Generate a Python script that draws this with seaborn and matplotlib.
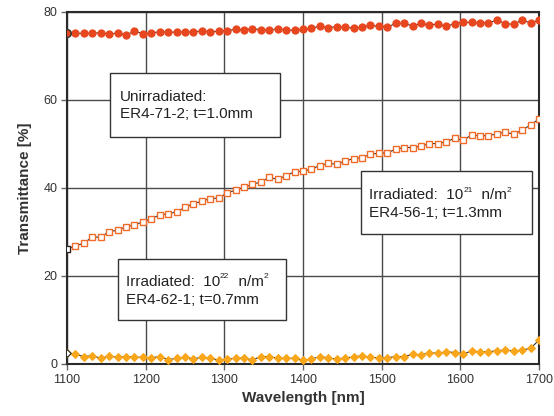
import matplotlib
matplotlib.use("Agg")
import matplotlib.pyplot as plt
from matplotlib.patches import Rectangle
from matplotlib.transforms import offset_copy
import seaborn as sns
import pandas as pd

wavelength = [1100.0, 1110.7, 1121.4, 1132.1, 1142.9, 1153.6, 1164.3, 1175.0, 1185.7, 1196.4,
              1207.1, 1217.9, 1228.6, 1239.3, 1250.0, 1260.7, 1271.4, 1282.1, 1292.9, 1303.6,
              1314.3, 1325.0, 1335.7, 1346.4, 1357.1, 1367.9, 1378.6, 1389.3, 1400.0, 1410.7,
              1421.4, 1432.1, 1442.9, 1453.6, 1464.3, 1475.0, 1485.7, 1496.4, 1507.1, 1517.9,
              1528.6, 1539.3, 1550.0, 1560.7, 1571.4, 1582.1, 1592.9, 1603.6, 1614.3, 1625.0,
              1635.7, 1646.4, 1657.1, 1667.9, 1678.6, 1689.3, 1700.0]

unirradiated = [75.15, 75.15, 75.15, 75.15, 75.3, 75.0, 75.23, 74.7, 75.68, 75.08,
                75.23, 75.53, 75.38, 75.45, 75.45, 75.45, 75.76, 75.45, 75.68, 75.76,
                76.06, 75.91, 76.21, 75.98, 75.83, 76.21, 75.83, 75.91, 76.06, 76.29,
                76.82, 76.44, 76.67, 76.52, 76.36, 76.52, 76.97, 76.74, 76.52, 77.42,
                77.42, 76.82, 77.42, 77.05, 77.27, 76.74, 77.35, 77.65, 77.65, 77.50,
                77.50, 78.18, 77.35, 77.20, 78.18, 77.50, 78.11]

irr_1e21 = [26.1, 26.9, 27.4, 28.9, 28.8, 30.1, 30.4, 31.2, 31.6, 32.3,
            33.0, 33.9, 34.1, 34.6, 35.6, 36.4, 37.0, 37.6, 37.7, 38.9,
            39.5, 40.2, 40.8, 41.4, 42.4, 42.0, 42.8, 43.7, 43.8, 44.3,
            45.1, 45.6, 45.4, 46.1, 46.7, 46.9, 47.7, 47.9, 48.0, 48.8,
            49.2, 49.2, 49.5, 50.1, 50.1, 50.5, 51.3, 50.8, 52.1, 51.9,
            51.9, 52.3, 52.7, 52.2, 53.2, 54.3, 55.7]

irr_1e22 = [2.6, 2.2, 1.7, 1.9, 1.3, 1.8, 1.5, 1.7, 1.6, 1.5,
            1.4, 1.7, 1.0, 1.3, 1.5, 1.2, 1.5, 1.3, 0.9, 1.1,
            1.3, 1.4, 0.9, 1.7, 1.7, 1.3, 1.3, 1.3, 0.9, 1.1,
            1.7, 1.4, 1.1, 1.4, 1.6, 1.9, 1.5, 1.4, 1.4, 1.7,
            1.7, 2.2, 2.05, 2.6, 2.4, 2.8, 2.6, 2.3, 2.95, 2.8,
            2.8, 3.0, 3.2, 2.95, 3.2, 3.55, 5.45]

x_ticks = [1100, 1200, 1300, 1400, 1500, 1600, 1700]
y_ticks = [0, 20, 40, 60, 80]

# box texts: first line split into (text, is_superscript) pieces
box_unirr = [[("Unirradiated:", False)], "ER4-71-2; t=1.0mm"]
box_e21 = [[("Irradiated:  10", False), ("21", True), ("  n/m", False), ("2", True)], "ER4-56-1; t=1.3mm"]
box_e22 = [[("Irradiated:  10", False), ("22", True), ("  n/m", False), ("2", True)], "ER4-62-1; t=0.7mm"]

sns.set_theme(style="white")
plt.rcParams["font.family"] = ["Liberation Sans", "DejaVu Sans"]

df = pd.DataFrame({"wl": wavelength, "u": unirradiated, "a": irr_1e21, "b": irr_1e22})

fig = plt.figure(figsize=(5.54, 4.16), dpi=100)
ax = fig.add_axes([67 / 554, 1 - 364 / 416, 472 / 554, 352 / 416])

line_kw = dict(color="#333333", linewidth=0.8, estimator=None, sort=False, zorder=3)

sns.lineplot(data=df, x="wl", y="u", ax=ax, marker="o", markersize=5.2,
             markerfacecolor="#E8461E", markeredgecolor="#E8461E", **line_kw)
sns.lineplot(data=df, x="wl", y="a", ax=ax, marker="s", markersize=4.8,
             markerfacecolor="white", markeredgecolor="#F06A28", markeredgewidth=1.0, **line_kw)
sns.lineplot(data=df, x="wl", y="b", ax=ax, marker="D", markersize=4.4,
             markerfacecolor="#F9A61A", markeredgecolor="#F9A61A", **line_kw)

first = df.iloc[[0]]
sns.scatterplot(data=first, x="wl", y="u", ax=ax, marker="o", s=30,
                color="#E8461E", edgecolor="#333333", linewidth=1.0, zorder=4)
sns.scatterplot(data=first, x="wl", y="a", ax=ax, marker="s", s=24,
                color="white", edgecolor="#222222", linewidth=0.9, zorder=4)
sns.scatterplot(data=first, x="wl", y="b", ax=ax, marker="D", s=14,
                color="white", edgecolor="#222222", linewidth=0.8, zorder=4)

ax.set_xlim(1100, 1700)
ax.set_ylim(0, 80)
ax.set_xticks(x_ticks)
ax.set_yticks(y_ticks)
ax.grid(True, color="#4a4a4a", linewidth=1.0)
ax.set_axisbelow(True)
for s in ax.spines.values():
    s.set_color("#2a2a2a")
    s.set_linewidth(1.5)
ax.tick_params(axis="both", which="both", direction="out", length=4, width=1,
               color="#666666", labelsize=9, labelcolor="#333333", pad=3,
               left=True, bottom=True)
ax.set_xlabel("Wavelength [nm]", fontsize=11, fontweight="bold", color="#333333", labelpad=4)
ax.set_ylabel("Transmittance [%]", fontsize=11, fontweight="bold", color="#333333", labelpad=8)

renderer = fig.canvas.get_renderer()


def draw_pieces(tx, ty, pieces):
    trans = ax.transData
    dx = 0.0
    for txt, sup in pieces:
        t = ax.text(tx, ty, txt, fontsize=6 if sup else 11, color="#222222",
                    va="center", ha="left", zorder=7,
                    transform=offset_copy(trans, fig=fig, x=dx, y=5.0 if sup else 0.0, units="dots"))
        w = t.get_window_extent(renderer=renderer).width
        dx += w + (0.5 if sup else 0.0)


def add_box(x0, x1, y0, y1, tx, ty1, ty2, lines):
    ax.add_patch(Rectangle((x0, y0), x1 - x0, y1 - y0, facecolor="white",
                           edgecolor="#333333", linewidth=1.0, zorder=6))
    draw_pieces(tx, ty1, lines[0])
    ax.text(tx, ty2, lines[1], fontsize=11, color="#222222", va="center", ha="left", zorder=7)


add_box(1154.6, 1370.7, 51.6, 66.1, 1167.0, 60.75, 56.75, box_unirr)
add_box(1473.6, 1690.9, 29.6, 43.9, 1484.0, 38.4, 34.25, box_e21)
add_box(1164.8, 1378.4, 10.0, 23.9, 1174.6, 18.7, 14.5, box_e22)

fig.savefig("out.png", dpi=100)
